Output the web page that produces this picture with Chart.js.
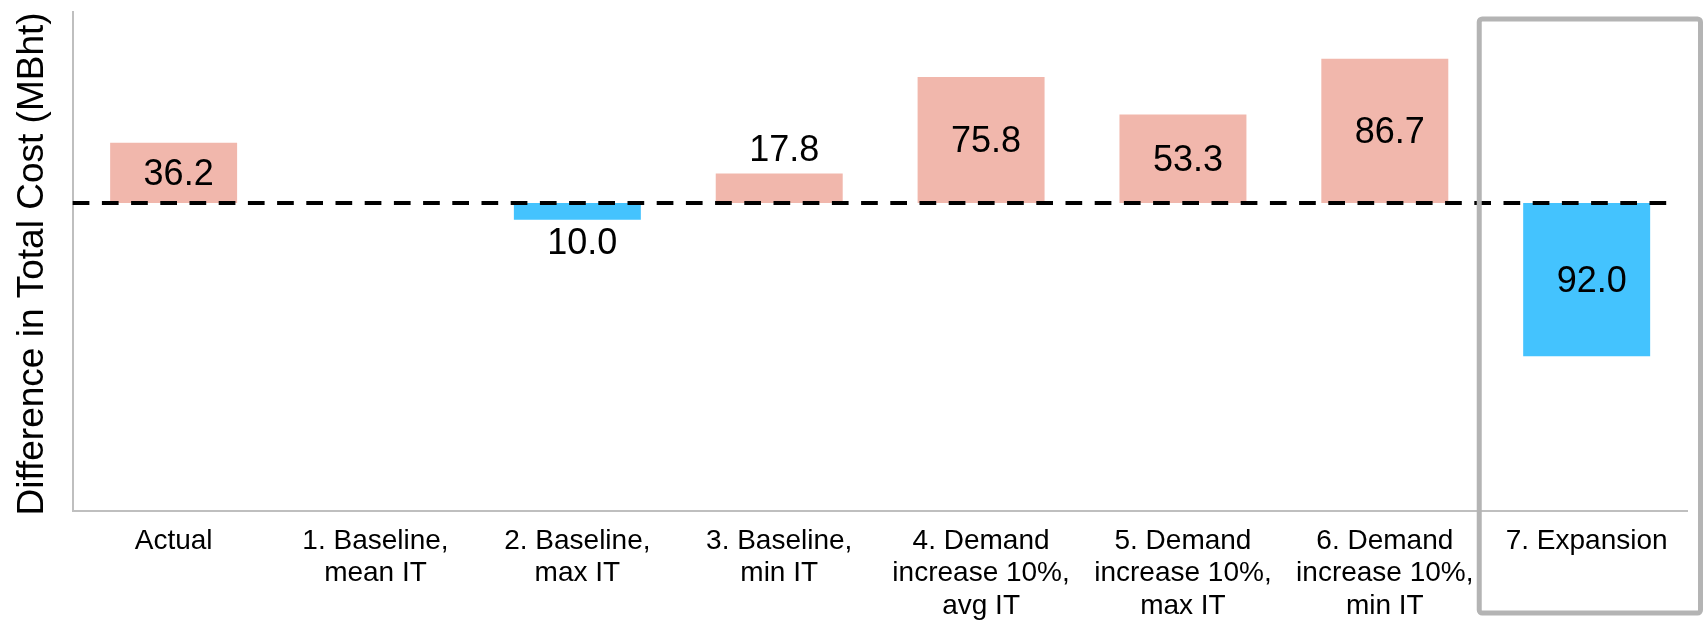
<!DOCTYPE html>
<html>
<head>
<meta charset="utf-8">
<script src="https://cdn.jsdelivr.net/npm/chart.js@4.4.1/dist/chart.umd.min.js"></script>
<style>
  html, body { margin: 0; padding: 0; background: #ffffff; }
  #wrap { width: 1704px; height: 620px; position: relative; }
</style>
</head>
<body>
<div id="wrap"><canvas id="chart" width="1704" height="620"></canvas></div>
<script>
// Scenario names (multi-line tick labels)
const categories = [
  ['Actual'],
  ['1. Baseline,', 'mean IT'],
  ['2. Baseline,', 'max IT'],
  ['3. Baseline,', 'min IT'],
  ['4. Demand', 'increase 10%,', 'avg IT'],
  ['5. Demand', 'increase 10%,', 'max IT'],
  ['6. Demand', 'increase 10%,', 'min IT'],
  ['7. Expansion']
];
// Difference in total cost against scenario 1 (MBht)
const costDifference = [36.2, 0, -10.0, 17.8, 75.8, 53.3, 86.7, -92.0];
// Index of the scenario framed by the grey box
const highlightedIndex = 7;
const axisTitle = 'Difference in Total Cost (MBht)';

const FONT = '"Liberation Sans", Arial, sans-serif';
const UP_COLOR = '#F1B7AC';
const DOWN_COLOR = '#44C3FE';

// Dashed reference line at zero, drawn over the bars
const zeroLine = {
  id: 'zeroLine',
  afterDatasetsDraw(chart) {
    const { ctx, chartArea, scales } = chart;
    const y0 = scales.y.getPixelForValue(0);
    ctx.save();
    ctx.strokeStyle = '#000000';
    ctx.lineWidth = 4;
    ctx.setLineDash([16.7, 12.5]);
    ctx.beginPath();
    ctx.moveTo(chartArea.left, y0);
    ctx.lineTo(chartArea.right - 12, y0);
    ctx.stroke();
    ctx.restore();
  }
};

// Value labels: centred inside tall bars, outside short ones
const valueLabels = {
  id: 'valueLabels',
  afterDatasetsDraw(chart) {
    const { ctx } = chart;
    const meta = chart.getDatasetMeta(0);
    ctx.save();
    ctx.font = '36px ' + FONT;
    ctx.fillStyle = '#000000';
    ctx.textAlign = 'center';
    ctx.textBaseline = 'middle';
    meta.data.forEach((bar, i) => {
      const v = costDifference[i];
      if (!v) return;
      const { x, y, base } = bar.getProps(['x', 'y', 'base'], true);
      const h = Math.abs(base - y);
      let ty;
      if (h > 45) ty = (y + base) / 2 + 2;
      else if (v > 0) ty = y - 22;
      else ty = y + 24;
      ctx.fillText(Math.abs(v).toFixed(1), x + 5, ty);
    });
    ctx.restore();
  }
};

// Rotated y-axis title
const yTitle = {
  id: 'yTitle',
  afterDraw(chart) {
    const { ctx } = chart;
    ctx.save();
    ctx.translate(33, 264);
    ctx.rotate(-Math.PI / 2);
    ctx.font = '37px ' + FONT;
    ctx.fillStyle = '#000000';
    ctx.textAlign = 'center';
    ctx.textBaseline = 'middle';
    ctx.fillText(axisTitle, 0, 0);
    ctx.restore();
  }
};

// Grey frame around the highlighted scenario
const highlightBox = {
  id: 'highlightBox',
  afterDraw(chart) {
    const { ctx, scales, width } = chart;
    const xs = scales.x;
    const half = (xs.getPixelForValue(1) - xs.getPixelForValue(0)) / 2;
    const left = xs.getPixelForValue(highlightedIndex) - half - 6.5;
    const right = width - 3.5;
    const top = 19;
    const bottom = 613;
    ctx.save();
    ctx.strokeStyle = '#B4B4B4';
    ctx.lineWidth = 5;
    ctx.lineJoin = 'round';
    ctx.beginPath();
    ctx.roundRect(left, top, right - left, bottom - top, 3);
    ctx.stroke();
    ctx.restore();
  }
};

new Chart(document.getElementById('chart'), {
  type: 'bar',
  data: {
    labels: categories,
    datasets: [{
      data: costDifference,
      backgroundColor: costDifference.map(v => v >= 0 ? UP_COLOR : DOWN_COLOR),
      borderWidth: 0,
      barPercentage: 0.629,
      categoryPercentage: 1.0
    }]
  },
  options: {
    responsive: false,
    animation: false,
    layout: { padding: { top: 11.7, right: 16.4, left: 0, bottom: 0 } },
    plugins: { legend: { display: false }, tooltip: { enabled: false } },
    scales: {
      x: {
        grid: { display: false, drawTicks: false },
        border: { display: true, color: '#BFBFBF', width: 2 },
        ticks: {
          color: '#000000',
          font: { family: FONT, size: 28, lineHeight: 1.16 },
          padding: 14,
          maxRotation: 0,
          autoSkip: false
        },
        afterFit(scale) { scale.height = 109; }
      },
      y: {
        min: -185,
        max: 115,
        grid: { display: false, drawTicks: false },
        border: { display: true, color: '#BFBFBF', width: 2 },
        ticks: { display: false },
        afterFit(scale) { scale.width = 72.7; }
      }
    }
  },
  plugins: [zeroLine, valueLabels, yTitle, highlightBox]
});
</script>
</body>
</html>
